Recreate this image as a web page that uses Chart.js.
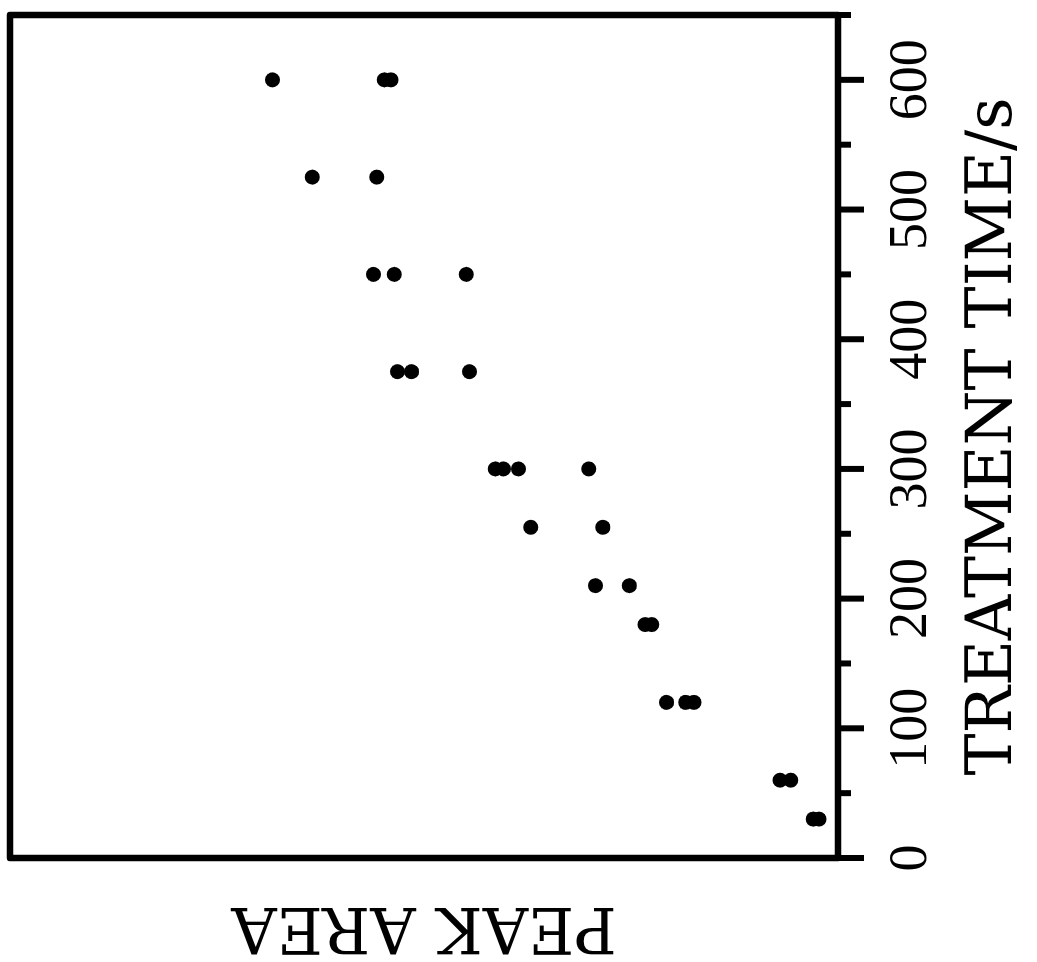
<!DOCTYPE html>
<html>
<head>
<meta charset="utf-8">
<title>Peak area vs treatment time</title>
<script src="https://cdn.jsdelivr.net/npm/chart.js@4.4.1/dist/chart.umd.min.js"></script>
<style>
  html, body { margin: 0; padding: 0; background: #fff; overflow: hidden; }
  /* the figure is printed turned a quarter turn, so draw it upright and rotate */
  #turn {
    position: absolute; left: 0; top: 0;
    width: 962px; height: 1037px;
    transform-origin: 0 0;
    transform: translateY(962px) rotate(-90deg);
  }
</style>
</head>
<body>
<div id="turn"><canvas id="chartPeak" width="962" height="1037"></canvas></div>
<script>
// ============ DATA ============
const treatmentTime = [600, 600, 600, 525, 525, 450, 450, 450, 375, 375, 375,
  300, 300, 300, 300, 255, 255, 210, 210, 180, 180, 120, 120, 120, 60, 60, 30, 30];
const peakArea = [68.3, 54.8, 54.0, 63.5, 55.7, 56.1, 53.6, 44.9, 53.2, 51.5, 44.5,
  41.4, 40.4, 38.6, 30.1, 37.1, 28.4, 29.3, 25.2, 23.3, 22.5, 20.7, 18.4, 17.4, 7.0, 5.7, 3.0, 2.3];
const timeTicks = [0, 100, 200, 300, 400, 500, 600];

const INK = '#000';

// frame box + long/short tick marks on the time axis
const frameAndTicks = {
  id: 'frameAndTicks',
  afterDraw(chart) {
    const ctx = chart.ctx;
    const a = chart.chartArea;
    const x = chart.scales.x;
    ctx.save();
    ctx.strokeStyle = INK;
    ctx.lineWidth = 6.5;
    ctx.lineJoin = 'round';
    ctx.strokeRect(a.left, a.top, a.right - a.left, a.bottom - a.top);
    ctx.lineWidth = 6;
    x.ticks.forEach(function (t) {
      const px = x.getPixelForValue(t.value);
      const len = timeTicks.indexOf(t.value) >= 0 ? 26 : 13;
      ctx.beginPath();
      ctx.moveTo(px, a.bottom);
      ctx.lineTo(px, a.bottom + len);
      ctx.stroke();
    });
    ctx.restore();
  }
};

new Chart(document.getElementById('chartPeak'), {
  type: 'scatter',
  data: {
    datasets: [{
      data: treatmentTime.map(function (t, i) { return { x: t, y: peakArea[i] }; }),
      backgroundColor: INK,
      borderWidth: 0,
      pointRadius: 7.5
    }]
  },
  options: {
    responsive: false,
    animation: false,
    layout: { padding: { top: 10, right: 15, bottom: 0, left: 0 } },
    plugins: { legend: { display: false }, tooltip: { enabled: false } },
    scales: {
      x: {
        type: 'linear',
        min: 0,
        max: 650,
        afterFit: function (scale) { scale.height = 199; },
        border: { display: false },
        grid: { drawOnChartArea: false, drawTicks: true, tickLength: 26, color: 'rgba(0,0,0,0)' },
        ticks: {
          stepSize: 50,
          autoSkip: false,
          maxRotation: 0,
          padding: 15,
          color: INK,
          font: { family: "'Liberation Serif', serif", size: 54 },
          callback: function (v) { return timeTicks.indexOf(v) >= 0 ? String(v) : ''; }
        },
        title: {
          display: true,
          text: 'TREATMENT TIME/s',
          color: INK,
          font: { family: "'DejaVu Serif', serif", size: 63 },
          padding: { top: 0, bottom: 5 }
        }
      },
      y: {
        min: 0,
        max: 100,
        afterFit: function (scale) { scale.width = 104; },
        border: { display: false },
        grid: { display: false },
        ticks: { display: false },
        title: {
          display: true,
          text: 'PEAK AREA',
          color: INK,
          font: { family: "'DejaVu Serif', serif", size: 63 },
          padding: 0
        }
      }
    }
  },
  plugins: [frameAndTicks]
});
</script>
</body>
</html>
